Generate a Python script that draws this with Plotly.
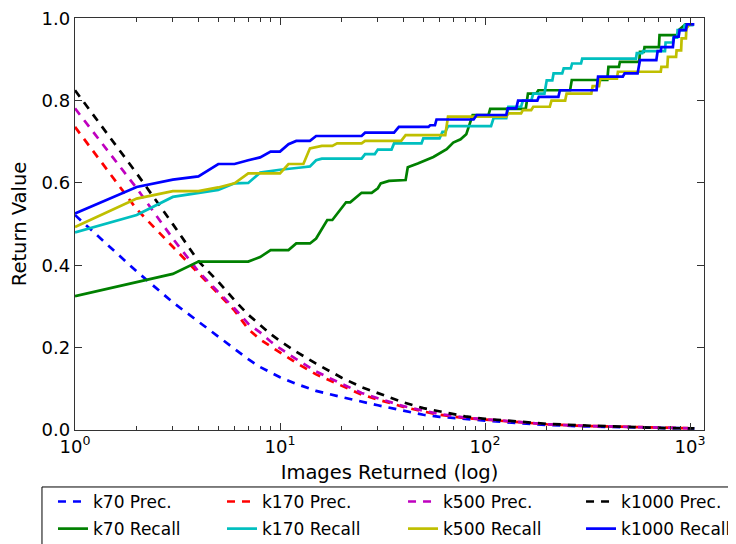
import plotly.graph_objects as go
import numpy as np

# ---------------- data ----------------
n_prec = [1, 2, 3, 4, 5, 6, 7, 8, 9, 10, 12, 15, 20, 25, 30, 40, 50, 60, 80, 100,
          150, 200, 300, 500, 700, 1000, 1050]
k70_prec = [0.522, 0.385, 0.310, 0.263, 0.226, 0.198, 0.172, 0.153, 0.140, 0.128, 0.112,
            0.095, 0.080, 0.070, 0.060, 0.047, 0.037, 0.032, 0.026, 0.023,
            0.016, 0.012, 0.009, 0.006, 0.005, 0.004, 0.004]
k170_prec = [0.736, 0.536, 0.445, 0.380, 0.330, 0.290, 0.245, 0.220, 0.203, 0.188, 0.163,
             0.135, 0.107, 0.086, 0.074, 0.056, 0.045, 0.037, 0.029, 0.025,
             0.018, 0.014, 0.010, 0.007, 0.005, 0.004, 0.004]
k500_prec = [0.781, 0.587, 0.465, 0.385, 0.335, 0.295, 0.258, 0.237, 0.215, 0.198, 0.172,
             0.142, 0.112, 0.090, 0.077, 0.058, 0.047, 0.039, 0.030, 0.026,
             0.019, 0.014, 0.010, 0.007, 0.005, 0.004, 0.004]
k1000_prec = [0.825, 0.623, 0.500, 0.410, 0.360, 0.315, 0.280, 0.255, 0.233, 0.216, 0.190,
              0.161, 0.127, 0.104, 0.089, 0.067, 0.053, 0.045, 0.033, 0.027,
              0.020, 0.015, 0.011, 0.007, 0.005, 0.004, 0.004]

k70_rec_n = [1, 2, 3, 4, 7, 8, 9, 11, 12, 14, 15, 17, 18, 21, 22, 25, 28, 30, 31, 34, 41,
             42, 47, 56, 65, 70, 76, 81, 84, 87, 104, 106, 158, 162, 178, 182, 260, 265,
             395, 400, 450, 455, 565, 570, 595, 600, 705, 710, 870, 880, 950, 1040]
k70_rec = [0.325, 0.358, 0.379, 0.409, 0.409, 0.420, 0.437, 0.437, 0.453, 0.453, 0.465,
           0.510, 0.510, 0.553, 0.553, 0.576, 0.576, 0.587, 0.599, 0.605, 0.607,
           0.638, 0.647, 0.663, 0.682, 0.698, 0.706, 0.718, 0.745, 0.765, 0.765, 0.780,
           0.780, 0.817, 0.817, 0.825, 0.825, 0.850, 0.850, 0.882, 0.882, 0.894, 0.894,
           0.918, 0.918, 0.930, 0.930, 0.959, 0.959, 0.971, 0.985, 0.985]

k170_rec_n = [1, 2, 3, 4, 5, 6, 7, 8, 10, 13, 14, 15, 16, 25, 26, 29, 30, 35, 36, 49, 50,
              60, 62, 64, 66, 107, 110, 127, 130, 150, 153, 168, 172, 195, 200, 213, 216,
              238, 242, 262, 266, 294, 298, 545, 550, 585, 590, 755, 760, 825, 830, 865,
              870, 935, 940, 1040]
k170_rec = [0.480, 0.522, 0.566, 0.576, 0.583, 0.599, 0.600, 0.625, 0.632, 0.638, 0.640,
            0.655, 0.659, 0.659, 0.670, 0.670, 0.681, 0.681, 0.696, 0.696, 0.708,
            0.708, 0.724, 0.724, 0.738, 0.738, 0.757, 0.757, 0.785, 0.785, 0.800,
            0.800, 0.817, 0.817, 0.849, 0.849, 0.866, 0.866, 0.878, 0.878, 0.890,
            0.890, 0.902, 0.902, 0.915, 0.915, 0.920, 0.920, 0.941, 0.941, 0.953,
            0.953, 0.971, 0.971, 0.983, 0.983]

k500_rec_n = [1, 2, 3, 4, 5, 6, 7, 10, 11, 13, 14, 15, 16, 18, 19, 25, 26, 39, 41, 64, 66,
              127, 130, 150, 153, 168, 172, 207, 211, 246, 250, 330, 335, 360, 365, 440,
              445, 720, 725, 775, 780, 855, 860, 905, 910, 955, 960, 990, 1040]
k500_rec = [0.493, 0.562, 0.580, 0.580, 0.589, 0.599, 0.623, 0.623, 0.646, 0.646, 0.684,
            0.688, 0.690, 0.690, 0.696, 0.696, 0.702, 0.702, 0.716, 0.716, 0.761,
            0.761, 0.769, 0.769, 0.777, 0.777, 0.785, 0.785, 0.800, 0.800, 0.817,
            0.817, 0.835, 0.835, 0.853, 0.853, 0.870, 0.870, 0.882, 0.882, 0.906,
            0.906, 0.922, 0.922, 0.951, 0.951, 0.975, 0.985, 0.985]

k1000_rec_n = [1, 2, 3, 4, 5, 6, 7, 8, 9, 10, 11, 12, 14, 15, 25, 26, 36, 38, 53, 54, 57,
               58, 88, 91, 127, 129, 142, 145, 180, 183, 228, 232, 350, 356, 470, 480,
               555, 570, 685, 695, 720, 725, 825, 835, 880, 890, 955, 965, 1050]
k1000_rec = [0.526, 0.590, 0.608, 0.616, 0.646, 0.646, 0.655, 0.662, 0.676, 0.676, 0.694,
             0.702, 0.702, 0.714, 0.714, 0.722, 0.722, 0.736, 0.736, 0.740, 0.740,
             0.754, 0.754, 0.765, 0.765, 0.781, 0.781, 0.800, 0.800, 0.809, 0.809,
             0.825, 0.825, 0.858, 0.858, 0.866, 0.866, 0.898, 0.898, 0.920, 0.920,
             0.930, 0.930, 0.955, 0.955, 0.971, 0.971, 0.985, 0.985]

x_tick_vals = [1, 10, 100, 1000]
x_tick_text = ["10<sup>0</sup>", "10<sup>1</sup>", "10<sup>2</sup>", "10<sup>3</sup>"]
y_tick_vals = [0.0, 0.2, 0.4, 0.6, 0.8, 1.0]
y_tick_text = ["0.0", "0.2", "0.4", "0.6", "0.8", "1.0"]

# ---------------- figure ----------------
FONT = "DejaVu Sans"
LW = 2.7
DASH = "8px,7px"
AX = "#333333"

fig = go.Figure()
prec_series = [("k70 Prec.", k70_prec, "#0000ff", "legend"),
               ("k170 Prec.", k170_prec, "#ff0000", "legend2"),
               ("k500 Prec.", k500_prec, "#bf00bf", "legend3"),
               ("k1000 Prec.", k1000_prec, "#000000", "legend4")]
rec_series = [("k70 Recall", k70_rec_n, k70_rec, "#008000", "legend"),
              ("k170 Recall", k170_rec_n, k170_rec, "#00bfbf", "legend2"),
              ("k500 Recall", k500_rec_n, k500_rec, "#bfbf00", "legend3"),
              ("k1000 Recall", k1000_rec_n, k1000_rec, "#0000ff", "legend4")]

for name, vals, col, lg in prec_series:
    fig.add_trace(go.Scatter(x=n_prec, y=vals, mode="lines", name=name, legend=lg,
                             legendgroup=name,
                             line=dict(color=col, width=LW, dash=DASH)))
for name, xs, vals, col, lg in rec_series:
    fig.add_trace(go.Scatter(x=xs, y=vals, mode="lines", name=name, legend=lg,
                             legendgroup=name,
                             line=dict(color=col, width=LW)))

axis_common = dict(showline=True, linecolor=AX, linewidth=1.3, mirror="ticks",
                   ticks="inside", tickcolor=AX, tickwidth=1, showgrid=False,
                   zeroline=False, ticklabeloverflow="allow",
                   tickfont=dict(family=FONT, size=18, color="black"))

fig.update_xaxes(type="log", range=[0, np.log10(1170)], tickvals=x_tick_vals,
                 ticktext=x_tick_text, ticklen=7,
                 minor=dict(ticks="inside", ticklen=4, tickcolor=AX, dtick="D1", showgrid=False),
                 title=dict(text="Images Returned (log)",
                            font=dict(family=FONT, size=19.5, color="black"), standoff=9),
                 **axis_common)
fig.update_yaxes(range=[0, 1.0005], tickvals=y_tick_vals, ticktext=y_tick_text, ticklen=7,
                 title=dict(text="Return Value",
                            font=dict(family=FONT, size=19.5, color="black"), standoff=18),
                 **axis_common)

# page is offset by the 8px body margin; plot area: left 67, top 10, right 696, bottom 422
leg_common = dict(orientation="v", yanchor="top", xanchor="left", y=-0.131,
                  bgcolor="rgba(0,0,0,0)", borderwidth=0, tracegroupgap=2,
                  font=dict(family=FONT, size=17, color="black"))
fig.update_layout(
    width=736, height=544,
    margin=dict(l=67, r=40, t=10, b=122, autoexpand=False),
    plot_bgcolor="white", paper_bgcolor="white",
    font=dict(family=FONT, size=17, color="black"),
    showlegend=True,
    legend=dict(x=-0.035, **leg_common),
    legend2=dict(x=0.2337, **leg_common),
    legend3=dict(x=0.5215, **leg_common),
    legend4=dict(x=0.8045, **leg_common),
    shapes=[dict(type="rect", xref="paper", yref="paper",
                 x0=-0.0525, x1=1.07, y0=-0.2985, y1=-0.1383,
                 line=dict(color="black", width=1), fillcolor="rgba(0,0,0,0)")],
)

fig.write_html("out.html")
